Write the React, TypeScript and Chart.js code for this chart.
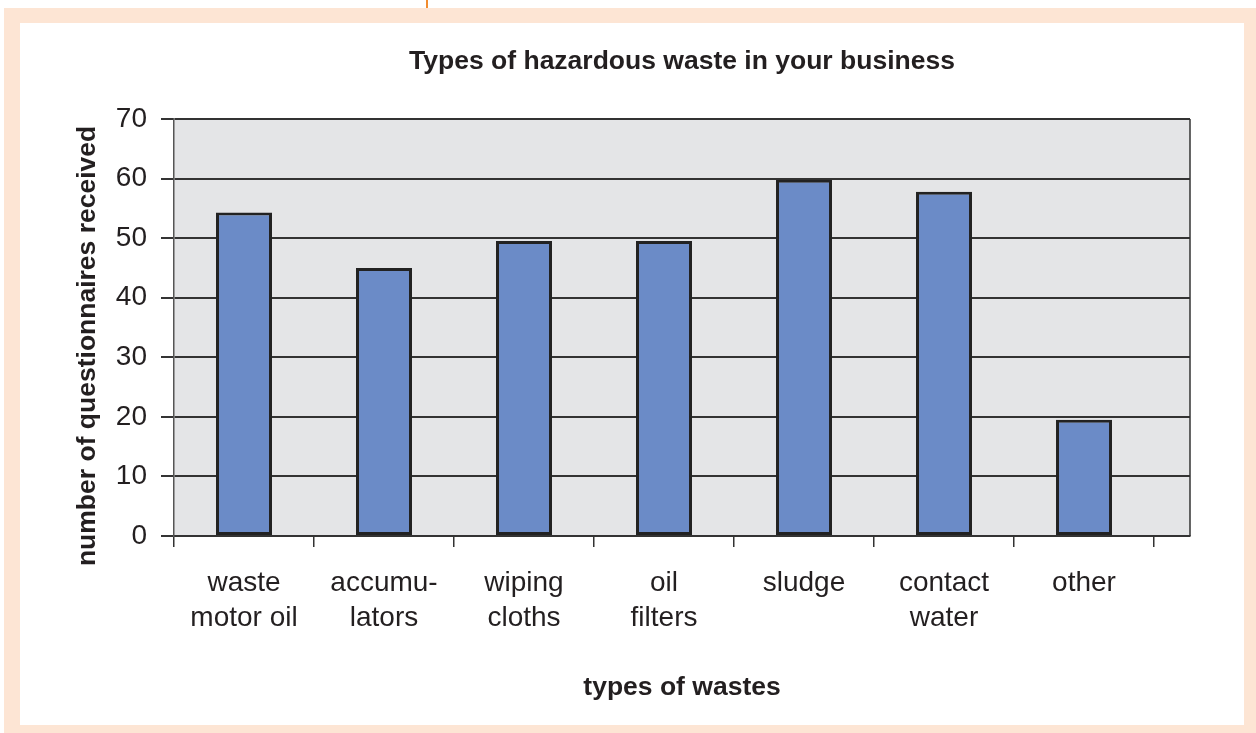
import React, { useEffect, useRef } from "react";
import { Chart, registerables } from "chart.js";

Chart.register(...registerables);

const chartTitle = "Types of hazardous waste in your business";
const xAxisTitle = "types of wastes";
const yAxisTitle = "number of questionnaires received     ";

const categories: string[][] = [
  ["waste", "motor oil"],
  ["accumu-", "lators"],
  ["wiping", "cloths"],
  ["oil", "filters"],
  ["sludge"],
  ["contact", "water"],
  ["other"],
];

const counts: number[] = [54.3, 45, 49.5, 49.5, 59.8, 57.8, 19.5];

const yMin = 0;
const yMax = 70;
const yStep = 10;

const TEXT = "#231f20";

const plotFrame = {
  id: "plotFrame",
  beforeDraw(chart: any) {
    const { ctx, chartArea: a } = chart;
    ctx.save();
    ctx.fillStyle = "#e4e5e7";
    ctx.fillRect(a.left, a.top, a.right - a.left, a.bottom - a.top);
    ctx.restore();
  },
  afterDraw(chart: any) {
    const { ctx, chartArea: a } = chart;
    ctx.save();
    ctx.strokeStyle = "#333333";
    ctx.lineWidth = 1.5;
    ctx.beginPath();
    ctx.moveTo(a.right, a.top);
    ctx.lineTo(a.right, a.bottom);
    ctx.stroke();
    ctx.restore();
  },
};

export default function App() {
  const canvasRef = useRef<HTMLCanvasElement | null>(null);

  useEffect(() => {
    if (!canvasRef.current) return;
    const chart = new Chart(canvasRef.current, {
      type: "bar",
      data: {
        datasets: [
          {
            data: counts.map((v, i) => ({ x: i, y: v })),
            backgroundColor: "#6b8bc7",
            borderColor: "#222222",
            borderWidth: 3,
            borderSkipped: false,
            barPercentage: 0.4,
            categoryPercentage: 1,
          } as any,
        ],
      },
      options: {
        animation: false,
        responsive: false,
        devicePixelRatio: 1,
        layout: { padding: { left: 48, right: 54, top: 0, bottom: 0 } },
        plugins: {
          legend: { display: false },
          tooltip: { enabled: false },
          title: {
            display: true,
            fullSize: false,
            text: chartTitle,
            color: TEXT,
            font: { family: "'Liberation Sans', Arial, sans-serif", size: 26.5, weight: "bold", lineHeight: 1.2 },
            padding: { top: 23, bottom: 41.2 },
          },
        },
        scales: {
          x: {
            type: "linear",
            min: -0.5,
            max: 6.757,
            offset: false,
            bounds: "data",
            afterBuildTicks: (scale: any) => {
              scale.ticks = categories.map((_, i) => ({ value: i }));
            },
            afterFit: (scale: any) => {
              scale.height = 189;
            },
            ticks: {
              autoSkip: false,
              maxRotation: 0,
              minRotation: 0,
              padding: 18.5,
              color: TEXT,
              font: { family: "'Liberation Sans', Arial, sans-serif", size: 28, lineHeight: 1.25 },
              callback: (_v: any, index: number) => categories[index],
            },
            grid: {
              offset: true,
              drawOnChartArea: false,
              drawTicks: true,
              tickLength: 11,
              color: "#333333",
              lineWidth: 1.5,
            },
            border: { display: true, color: "#333333", width: 2 },
            title: {
              display: true,
              text: xAxisTitle,
              color: TEXT,
              font: { family: "'Liberation Sans', Arial, sans-serif", size: 26.5, weight: "bold", lineHeight: 1.2 },
              padding: { top: 0, bottom: 21 },
            },
          } as any,
          y: {
            type: "linear",
            position: "left",
            min: yMin,
            max: yMax,
            afterFit: (scale: any) => {
              scale.width = 106;
            },
            ticks: {
              stepSize: yStep,
              padding: 14,
              color: TEXT,
              font: { family: "'Liberation Sans', Arial, sans-serif", size: 28 },
            },
            grid: {
              color: "#333333",
              lineWidth: 2,
              tickLength: 13,
              drawTicks: true,
            },
            border: { display: true, color: "#555555", width: 1.5 },
            title: {
              display: true,
              text: yAxisTitle,
              color: TEXT,
              font: { family: "'Liberation Sans', Arial, sans-serif", size: 26.5, weight: "bold", lineHeight: 1.2 },
              padding: { top: 4, bottom: 4 },
            },
          } as any,
        },
      },
      plugins: [plotFrame],
    });
    return () => chart.destroy();
  }, []);

  return (
    <div style={{ position: "absolute", left: 0, top: 0, width: 1256, height: 733, background: "#ffffff", overflow: "hidden" }}>
      <div style={{ position: "absolute", left: 426, top: 0, width: 2, height: 8, background: "#f28c2e" }} />
      <div style={{ position: "absolute", left: 4, top: 8, width: 1252, height: 725, background: "#fde5d4" }} />
      <div style={{ position: "absolute", left: 20, top: 23, width: 1224, height: 702, background: "#ffffff" }}>
        <canvas ref={canvasRef} width={1224} height={702} style={{ display: "block", width: 1224, height: 702 }} />
      </div>
    </div>
  );
}
